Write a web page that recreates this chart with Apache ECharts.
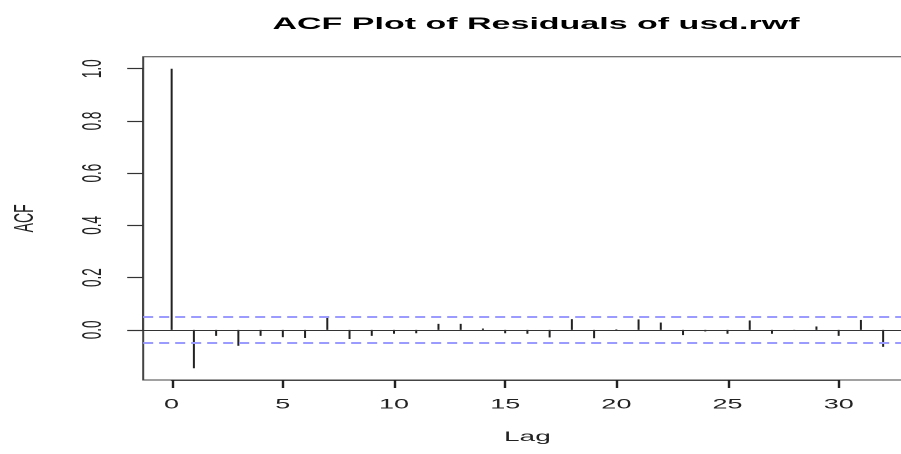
<!DOCTYPE html>
<html><head><meta charset="utf-8">
<script src="https://cdn.jsdelivr.net/npm/echarts@6/dist/echarts.min.js"></script>
<style>
html,body{margin:0;padding:0;background:#fff;overflow:hidden;}
#chart{width:450.5px;height:454px;transform:scaleX(2);transform-origin:0 0;}
</style></head><body><div id="chart"></div>
<script>
const lags = [0,1,2,3,4,5,6,7,8,9,10,11,12,13,14,15,16,17,18,19,20,21,22,23,24,25,26,27,28,29,30,31,32];
const acfValues = [1.0,-0.147,-0.023,-0.061,-0.023,-0.028,-0.031,0.051,-0.035,-0.023,-0.015,-0.013,0.023,0.023,0.005,-0.013,-0.015,-0.029,0.041,-0.032,0.002,0.040,0.028,-0.020,-0.006,-0.015,0.036,-0.015,-0.004,0.013,-0.023,0.038,-0.065];
const confLimit = 0.049;
const xTickMin = 0, xTickMax = 30, xTickStep = 5;
const yTickMin = 0, yTickMax = 1, yTickStep = 0.2;
const titleText = 'ACF Plot of Residuals of usd.rwf';
const xName = 'Lag';
const yName = 'ACF';

const FONT = "'Liberation Sans', Arial, sans-serif";
const W = 450.5, H = 454;
const xMin = -1.28, xMax = 33.28, yMin = -0.192, yMax = 1.046;
const g = {left: 71.6, right: -4.8, top: 56.7, bottom: 74};
const gw = W - g.left - g.right, gh = H - g.top - g.bottom;
const px = v => g.left + (v - xMin) / (xMax - xMin) * gw;
const py = v => g.top + (yMax - v) / (yMax - yMin) * gh;
const g2 = {left: px(xTickMin), right: W - px(xTickMax), top: py(yTickMax), bottom: H - py(yTickMin)};

const chart = echarts.init(document.getElementById('chart'), null, {renderer: 'canvas', devicePixelRatio: 2});
chart.setOption({
  backgroundColor: '#fff',
  animation: false,
  title: {
    text: titleText, left: 263, top: 11, textAlign: 'center',
    textStyle: {fontFamily: FONT, fontSize: 17, fontWeight: 'bold', color: '#000'}
  },
  grid: [
    {left: g.left, top: g.top, bottom: g.bottom, right: g.right,
     show: true, borderColor: '#444', borderWidth: 1, outerBoundsMode: 'none', containLabel: false},
    {left: g2.left, top: g2.top, bottom: g2.bottom, right: g2.right,
     show: false, outerBoundsMode: 'none', containLabel: false}
  ],
  xAxis: [{
    gridIndex: 0, type: 'value', min: xMin, max: xMax,
    name: xName, nameLocation: 'middle', nameGap: 50,
    nameTextStyle: {fontFamily: FONT, fontSize: 14, color: '#222'},
    axisLine: {show: false}, axisTick: {show: false}, axisLabel: {show: false}, splitLine: {show: false}
  }, {
    gridIndex: 1, type: 'value', min: xTickMin, max: xTickMax, interval: xTickStep,
    position: 'bottom', offset: (H - g.bottom) - py(yTickMin),
    axisLine: {show: true, onZero: false, lineStyle: {color: '#444', width: 1}},
    splitLine: {show: false},
    axisTick: {show: true, inside: false, length: 8, lineStyle: {color: '#222', width: 1.2}},
    axisLabel: {show: true, margin: 18, fontFamily: FONT, fontSize: 13.5, color: '#222', formatter: v => String(v)}
  }],
  yAxis: [{
    gridIndex: 0, type: 'value', min: yMin, max: yMax,
    name: yName, nameLocation: 'middle', nameGap: 52, nameRotate: 90,
    nameTextStyle: {fontFamily: FONT, fontSize: 14, color: '#222'},
    axisLine: {show: false}, axisTick: {show: false}, axisLabel: {show: false}, splitLine: {show: false}
  }, {
    gridIndex: 1, type: 'value', min: yTickMin, max: yTickMax, interval: yTickStep,
    position: 'left', offset: px(xTickMin) - g.left,
    axisLine: {show: true, onZero: false, lineStyle: {color: '#444', width: 1}},
    splitLine: {show: false},
    axisTick: {show: true, inside: false, length: 8, lineStyle: {color: '#333', width: 1.2}},
    axisLabel: {show: true, margin: 18, rotate: 90, fontFamily: FONT, fontSize: 13.5, color: '#222', formatter: v => v.toFixed(1)}
  }],
  series: [{
    type: 'bar', xAxisIndex: 0, yAxisIndex: 0,
    data: lags.map((l, i) => [l, acfValues[i]]),
    barWidth: 1,
    itemStyle: {color: '#222'},
    silent: true,
    markLine: {
      silent: true, symbol: 'none', animation: false,
      label: {show: false},
      data: [
        {yAxis: 0, lineStyle: {color: '#333', width: 1, type: 'solid'}},
        {yAxis: confLimit, lineStyle: {color: '#9a9aff', width: 2, type: [5, 3]}},
        {yAxis: -confLimit, lineStyle: {color: '#9a9aff', width: 2, type: [5, 3]}}
      ]
    }
  }]
});
</script></body></html>
